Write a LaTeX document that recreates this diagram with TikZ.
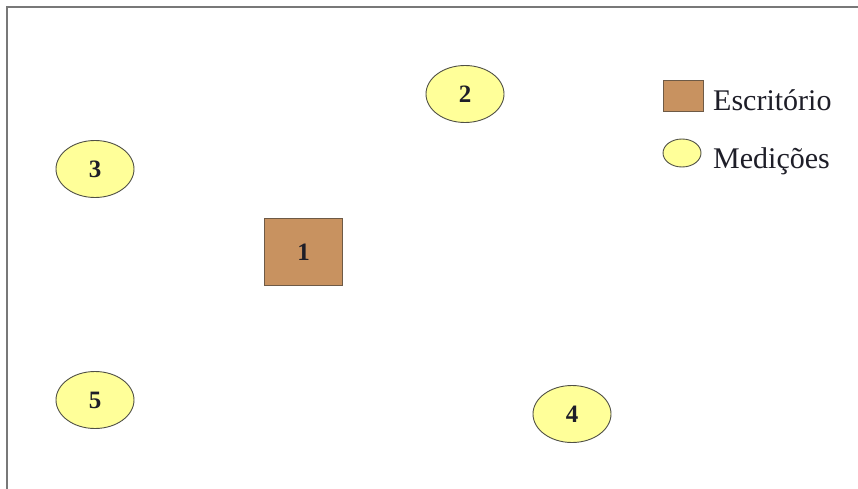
\documentclass[tikz,border=0pt]{standalone}
\usepackage{fontspec}
\setmainfont{Liberation Serif}
\usetikzlibrary{shapes.geometric}
\definecolor{office}{RGB}{200,146,96}
\definecolor{officeedge}{RGB}{110,90,70}
\definecolor{meas}{RGB}{255,255,153}
\definecolor{measedge}{RGB}{80,80,70}
\definecolor{framec}{RGB}{120,120,120}
\definecolor{textc}{RGB}{30,30,40}
\tikzset{
  measure/.style={ellipse, draw=measedge, fill=meas, line width=0.9pt,
    minimum width=78pt, minimum height=57pt, inner sep=0pt, text=textc,
    font=\fontsize{25}{26}\selectfont\bfseries},
  officebox/.style={rectangle, draw=officeedge, fill=office, line width=0.9pt,
    minimum width=78pt, minimum height=67pt, inner sep=0pt, text=textc,
    font=\fontsize{25}{26}\selectfont\bfseries},
  legmeas/.style={ellipse, draw=measedge, fill=meas, line width=0.9pt,
    minimum width=38pt, minimum height=28pt, inner sep=0pt},
  legoffice/.style={rectangle, draw=officeedge, fill=office, line width=0.9pt,
    minimum width=40pt, minimum height=31pt, inner sep=0pt},
  legtext/.style={anchor=base west, inner sep=0pt, text=textc,
    font=\fontsize{30}{31}\selectfont},
}
\begin{document}
\begin{tikzpicture}[x=1pt,y=-1pt]
\useasboundingbox (0,0) rectangle (858,489);
\fill[white] (0,0) rectangle (858,489);
\coordinate (fc) at (7,7);
\coordinate (fr) at (858,7);
\coordinate (fb) at (7,489);
\draw[framec, line width=1.6pt] (fr) -- (fc) -- (fb);
\node[officebox] (n1) at (303.5,252) {1};
\node[measure] (n2) at (465,94) {2};
\node[measure] (n3) at (95,169) {3};
\node[measure] (n4) at (572,414) {4};
\node[measure] (n5) at (95,400) {5};
\node[legoffice] (lo) at (683,96) {};
\node[legmeas] (lm) at (682,153) {};
\node[legtext] (lot) at (713,111) {Escritório};
\node[legtext] (lmt) at (713,168) {Medições};
\end{tikzpicture}
\end{document}
